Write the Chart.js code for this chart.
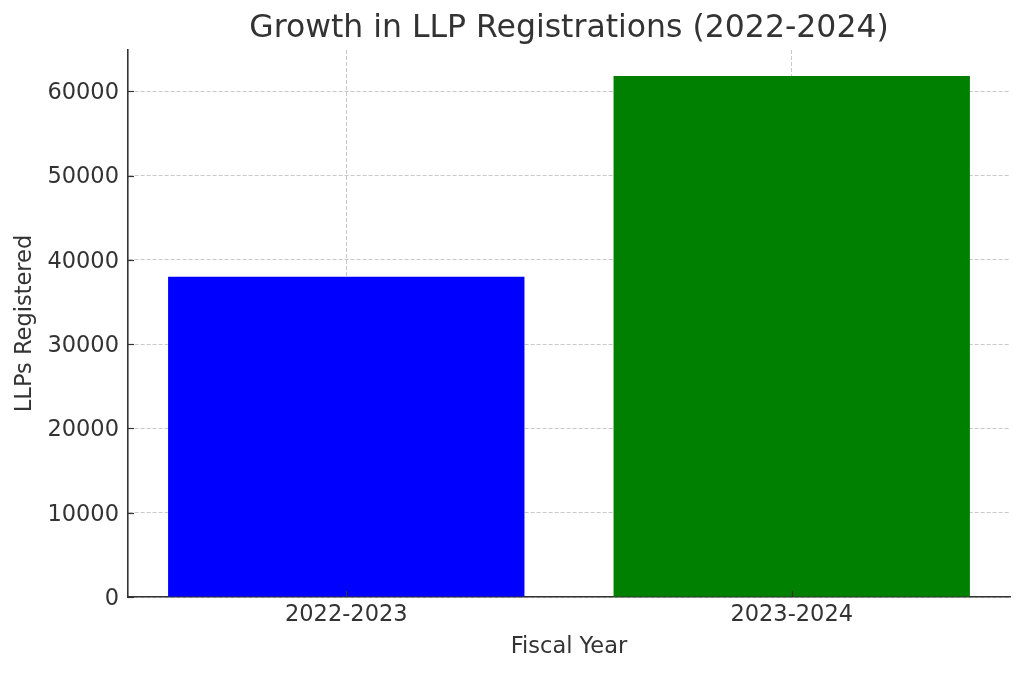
<!DOCTYPE html>
<html>
<head>
<meta charset="utf-8">
<script src="https://cdn.jsdelivr.net/npm/chart.js@4/dist/chart.umd.min.js"></script>
<style>
  html, body { margin: 0; padding: 0; background: #ffffff; }
  #wrap { width: 1024px; height: 673px; position: relative; }
</style>
</head>
<body>
<div id="wrap"><canvas id="c"></canvas></div>
<script>
const categories = ["2022-2023", "2023-2024"];
const registrations = [38000, 61800];
const barColors = ["#0000ff", "#008000"];
const yTickValues = [0, 10000, 20000, 30000, 40000, 50000, 60000];

const TEXT = "#333333";
const FONT = "'DejaVu Sans', sans-serif";

const innerTicks = {
  id: "innerTicks",
  afterDraw(chart) {
    const ctx = chart.ctx;
    const area = chart.chartArea;
    const xs = chart.scales.x, ys = chart.scales.y;
    ctx.save();
    ctx.strokeStyle = TEXT;
    ctx.lineWidth = 1.2;
    ys.ticks.forEach(t => {
      const py = Math.round(ys.getPixelForValue(t.value)) + 0.5;
      ctx.beginPath();
      ctx.moveTo(area.left, py);
      ctx.lineTo(area.left + 6, py);
      ctx.stroke();
    });
    xs.ticks.forEach(t => {
      const px = Math.round(xs.getPixelForValue(t.value)) + 0.5;
      ctx.beginPath();
      ctx.moveTo(px, area.bottom);
      ctx.lineTo(px, area.bottom - 6);
      ctx.stroke();
    });
    ctx.restore();
  }
};

new Chart(document.getElementById("c"), {
  type: "bar",
  data: {
    datasets: [{
      data: registrations.map((v, i) => ({ x: i, y: v })),
      backgroundColor: barColors,
      borderWidth: 0,
      categoryPercentage: 1.0,
      barPercentage: 0.8
    }]
  },
  options: {
    responsive: true,
    maintainAspectRatio: false,
    animation: false,
    layout: { padding: { left: 0, right: 14, top: 0, bottom: 0 } },
    plugins: {
      legend: { display: false },
      tooltip: { enabled: false },
      title: {
        display: true,
        fullSize: false,
        text: "Growth in LLP Registrations (2022-2024)",
        color: TEXT,
        font: { family: FONT, size: 31.5, weight: "normal", lineHeight: 1.2 },
        padding: { top: 10, bottom: 2.2 }
      }
    },
    scales: {
      x: {
        type: "linear",
        min: -0.49,
        max: 1.49,
        offset: false,
        z: 1,
        afterBuildTicks(scale) { scale.ticks = categories.map((c, i) => ({ value: i })); },
        afterFit(scale) { scale.height = 76; },
        ticks: {
          color: TEXT,
          padding: 5,
          font: { family: FONT, size: 22.5 },
          callback: (v) => categories[v] ?? ""
        },
        grid: { color: "#c8c8c8", lineWidth: 1, drawTicks: false, offset: false },
        border: { display: true, color: TEXT, width: 1.6, dash: [4, 2] },
        title: {
          display: true,
          text: "Fiscal Year",
          color: TEXT,
          font: { family: FONT, size: 22.5, lineHeight: 1.2 },
          padding: { top: 0, bottom: 12.5 }
        }
      },
      y: {
        type: "linear",
        min: 0,
        max: 64890,
        z: 1,
        afterBuildTicks(scale) { scale.ticks = yTickValues.map(v => ({ value: v })); },
        afterFit(scale) { scale.width = 128; },
        ticks: {
          color: TEXT,
          padding: 9,
          labelOffset: 2,
          font: { family: FONT, size: 22.5 },
          callback: (v) => String(v)
        },
        grid: { color: "#c8c8c8", lineWidth: 1, drawTicks: false },
        border: { display: true, color: TEXT, width: 1.6, dash: [4, 2] },
        title: {
          display: true,
          text: "LLPs Registered",
          color: TEXT,
          font: { family: FONT, size: 22.5, lineHeight: 1.2 },
          padding: { top: 11.5, bottom: 0 }
        }
      }
    }
  },
  plugins: [innerTicks]
});
</script>
</body>
</html>
